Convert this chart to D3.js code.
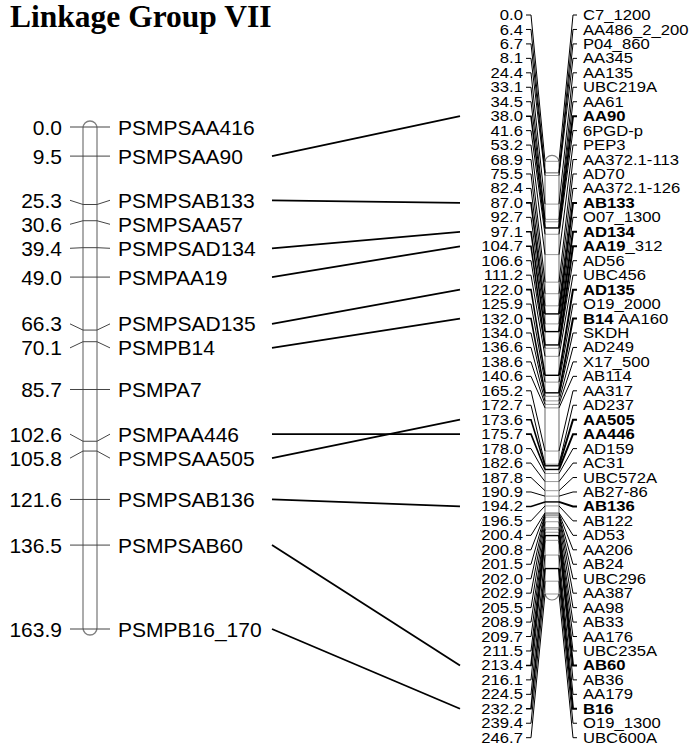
<!DOCTYPE html>
<html lang="en">
<head>
<meta charset="UTF-8">
<title>Linkage Group VII</title>
<script src="https://d3js.org/d3.v7.min.js"></script>
<style>
    * { margin: 0; padding: 0; box-sizing: border-box; }
    body { background: #fff; }
    text { font-family: "Liberation Sans", Arial, sans-serif; fill: #000; }
    .title { font-family: "Liberation Serif", "Times New Roman", serif; font-weight: bold; }
</style>
</head>
<body>
<div id="chart"></div>
<script>
// left map (consensus) - positions in cM and marker names
const leftPos = [0.0, 9.5, 25.3, 30.6, 39.4, 49.0, 66.3, 70.1, 85.7, 102.6, 105.8, 121.6, 136.5, 163.9];
const leftNames = ["PSMPSAA416", "PSMPSAA90", "PSMPSAB133", "PSMPSAA57", "PSMPSAD134", "PSMPAA19",
    "PSMPSAD135", "PSMPB14", "PSMPA7", "PSMPAA446", "PSMPSAA505", "PSMPSAB136", "PSMPSAB60", "PSMPB16_170"];

// right map
const rightPos = [0.0, 6.4, 6.7, 8.1, 24.4, 33.1, 34.5, 38.0, 41.6, 53.2,
    68.9, 75.5, 82.4, 87.0, 92.7, 97.1, 104.7, 106.6, 111.2, 122.0,
    125.9, 132.0, 134.0, 136.6, 138.6, 140.6, 165.2, 172.7, 173.6, 175.7,
    178.0, 182.6, 187.8, 190.9, 194.2, 196.5, 200.4, 200.8, 201.5, 202.0,
    202.9, 205.5, 208.9, 209.7, 211.5, 213.4, 216.1, 224.5, 232.2, 239.4, 246.7];
const rightNames = ["C7_1200", "AA486_2_200", "P04_860", "AA345", "AA135", "UBC219A", "AA61", "AA90", "6PGD-p", "PEP3",
    "AA372.1-113", "AD70", "AA372.1-126", "AB133", "O07_1300", "AD134", "AA19_312", "AD56", "UBC456", "AD135",
    "O19_2000", "B14 AA160", "SKDH", "AD249", "X17_500", "AB114", "AA317", "AD237", "AA505", "AA446",
    "AD159", "AC31", "UBC572A", "AB27-86", "AB136", "AB122", "AD53", "AA206", "AB24", "UBC296",
    "AA387", "AA98", "AB33", "AA176", "UBC235A", "AB60", "AB36", "AA179", "B16", "O19_1300", "UBC600A"];
const rightBold = ["AA90", "AB133", "AD134", "AA19", "AD135", "B14", "AA505", "AA446", "AB136", "AB60", "B16"];

// common markers: left name -> bold token on the right
const links = [
    ["PSMPSAA90", "AA90"], ["PSMPSAB133", "AB133"], ["PSMPSAD134", "AD134"], ["PSMPAA19", "AA19"],
    ["PSMPSAD135", "AD135"], ["PSMPB14", "B14"], ["PSMPAA446", "AA446"], ["PSMPSAA505", "AA505"],
    ["PSMPSAB136", "AB136"], ["PSMPSAB60", "AB60"], ["PSMPB16_170", "B16"]
];

const width = 692, height = 749;
const svg = d3.select("#chart").append("svg")
    .attr("width", width)
    .attr("height", height);

svg.append("text")
    .attr("class", "title")
    .attr("x", 10)
    .attr("y", 27)
    .attr("font-size", "31.5px")
    .text("Linkage Group VII");

// push labels apart so they don't overlap (clusters centred on their mean)
function spread(pos, gap, lo, hi) {
    let clusters = pos.map(p => ({ start: Math.max(lo, Math.min(hi, p)), n: 1, sum: p }));
    let changed = true;
    while (changed) {
        changed = false;
        for (let i = 0; i < clusters.length - 1; i++) {
            const a = clusters[i], b = clusters[i + 1];
            if (a.start + a.n * gap > b.start + 0.01) {
                const n = a.n + b.n, sum = a.sum + b.sum;
                let start = sum / n - (n - 1) * gap / 2;
                start = Math.max(lo, Math.min(hi - (n - 1) * gap, start));
                clusters.splice(i, 2, { start, n, sum });
                changed = true;
                break;
            }
        }
    }
    const out = [];
    clusters.forEach(c => { for (let k = 0; k < c.n; k++) out.push(c.start + k * gap); });
    return out;
}

function boldToken(name) {
    return rightBold.find(t => name === t || name.startsWith(t + "_") || name.startsWith(t + " "));
}

// ---------- left chromosome ----------
const yL = d3.scaleLinear().domain([0, d3.max(leftPos)]).range([127, 629]);
const lx0 = 83, lx1 = 97;
const leftLab = spread(leftPos.map(yL), 24, 0, height);

svg.append("rect")
    .attr("x", lx0).attr("y", yL(0) - 6)
    .attr("width", lx1 - lx0).attr("height", yL(d3.max(leftPos)) - yL(0) + 12)
    .attr("rx", 7).attr("ry", 7)
    .attr("fill", "#fff").attr("stroke", "#808080").attr("stroke-width", 1.3);

const lg = svg.append("g");
leftPos.forEach((p, i) => {
    const ym = yL(p), yl = leftLab[i];
    lg.append("path")
        .attr("d", `M70,${yl}L${lx0},${ym}L${lx1},${ym}L110,${yl}`)
        .attr("fill", "none").attr("stroke", "#444").attr("stroke-width", 1);
    lg.append("text")
        .attr("x", 62).attr("y", yl).attr("dy", "0.36em")
        .attr("text-anchor", "end").attr("font-size", "21px")
        .text(p.toFixed(1));
    lg.append("text")
        .attr("x", 118).attr("y", yl).attr("dy", "0.36em")
        .attr("font-size", "21px")
        .text(leftNames[i]);
});

// ---------- right chromosome ----------
const yR = d3.scaleLinear().domain([0, d3.max(rightPos)]).range([161.3, 594]);
const rx0 = 545, rx1 = 559;
const rightLab = spread(rightPos.map(yR), (737.7 - 15) / (rightPos.length - 1), 15, 737.7);

svg.append("rect")
    .attr("x", rx0).attr("y", yR(0) - 6)
    .attr("width", rx1 - rx0).attr("height", yR(d3.max(rightPos)) - yR(0) + 12)
    .attr("rx", 7).attr("ry", 7)
    .attr("fill", "#fff").attr("stroke", "#808080").attr("stroke-width", 1.2);

const rg = svg.append("g");
rightPos.forEach((p, i) => {
    const ym = yR(p), yl = rightLab[i];
    const tok = boldToken(rightNames[i]);
    rg.append("line")
        .attr("x1", rx0).attr("x2", rx1).attr("y1", ym).attr("y2", ym)
        .attr("stroke", tok ? "#000" : "#999").attr("stroke-width", tok ? 1.4 : 1);
    rg.append("path")
        .attr("d", `M526,${yl}L531,${yl}L${rx0},${ym}`)
        .attr("fill", "none").attr("stroke", "#000").attr("stroke-width", tok ? 1.6 : 1);
    rg.append("path")
        .attr("d", `M${rx1},${ym}L573,${yl}L577,${yl}`)
        .attr("fill", "none").attr("stroke", "#000").attr("stroke-width", tok ? 2 : 1);
    rg.append("text")
        .attr("transform", `translate(523,${yl}) scale(1.19,1)`)
        .attr("dy", "0.36em").attr("text-anchor", "end").attr("font-size", "14px")
        .text(p.toFixed(1));
    const t = rg.append("text")
        .attr("transform", `translate(583,${yl}) scale(1.19,1)`)
        .attr("dy", "0.36em").attr("font-size", "14px");
    if (tok) {
        t.append("tspan").attr("font-weight", "bold").text(tok);
        const rest = rightNames[i].slice(tok.length);
        if (rest) t.append("tspan").text(rest.replace(" ", "\u00a0"));
    } else {
        t.text(rightNames[i]);
    }
});

// ---------- links between the two maps ----------
svg.append("g").selectAll("line")
    .data(links)
    .join("line")
    .attr("x1", 272)
    .attr("y1", d => leftLab[leftNames.indexOf(d[0])])
    .attr("x2", 460)
    .attr("y2", d => rightLab[rightNames.findIndex(n => boldToken(n) === d[1])])
    .attr("stroke", "#000")
    .attr("stroke-width", 1.8);
</script>
</body>
</html>
